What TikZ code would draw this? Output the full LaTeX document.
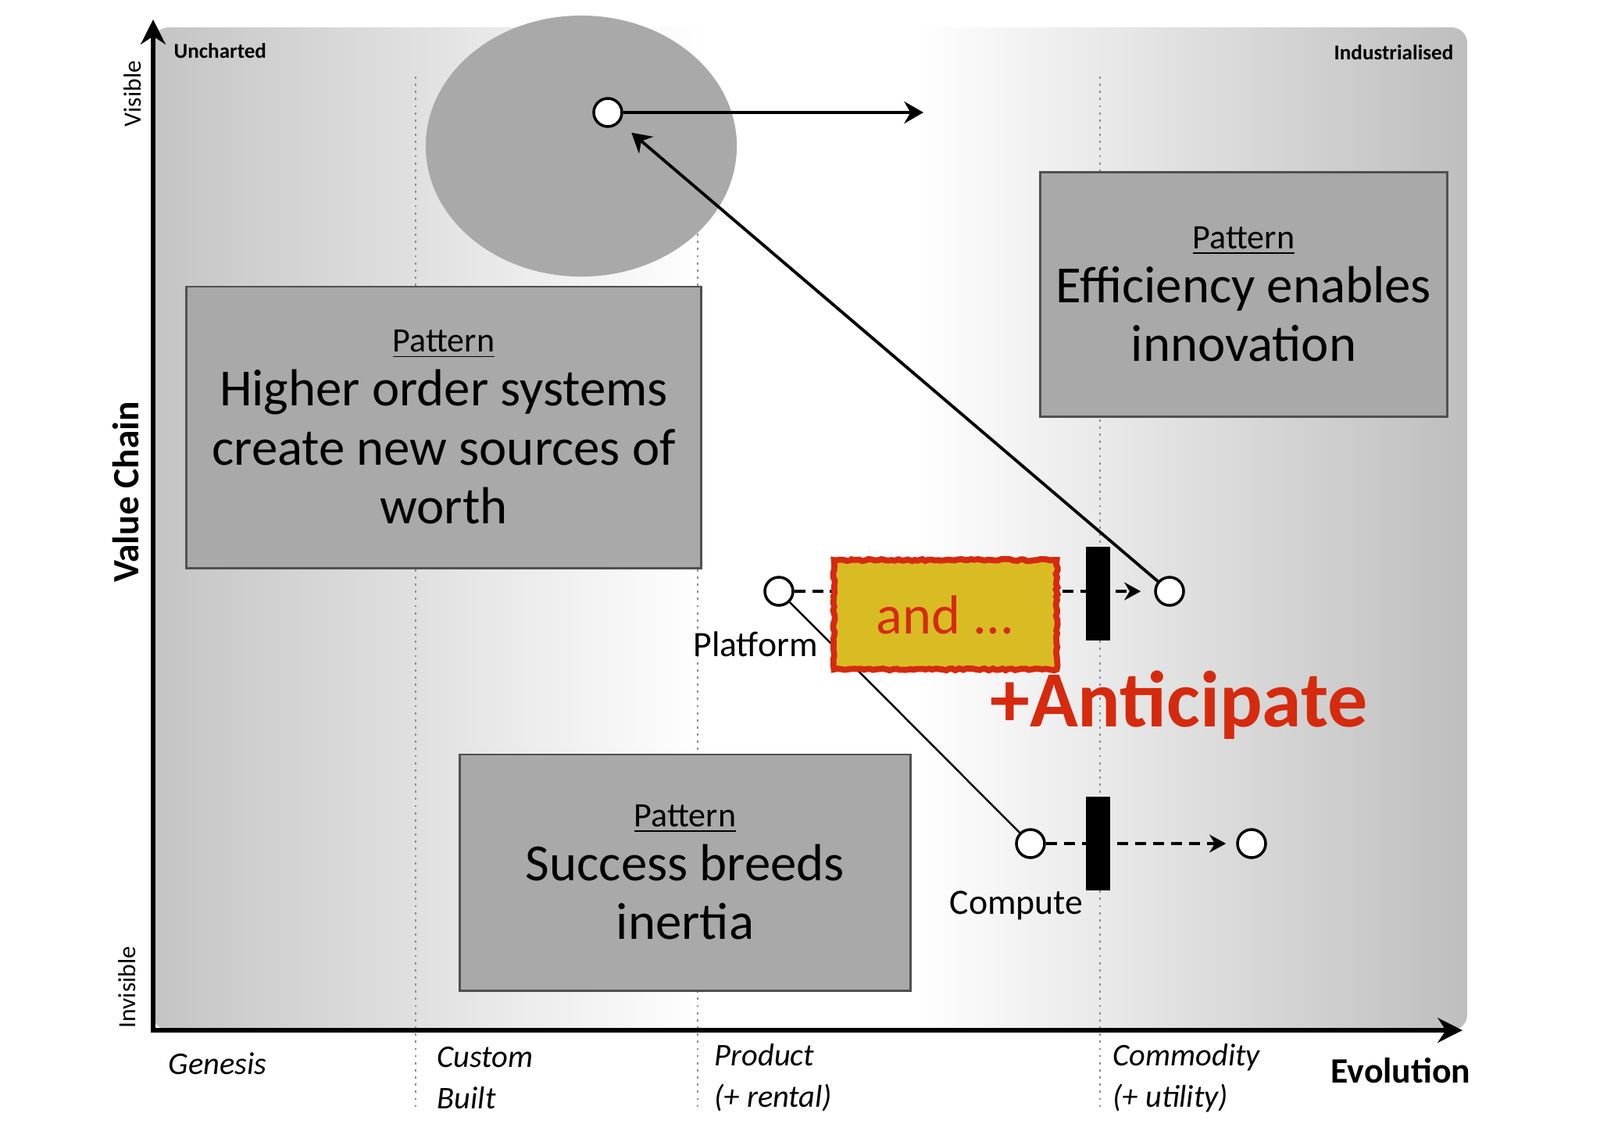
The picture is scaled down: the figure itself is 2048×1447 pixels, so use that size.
\documentclass[tikz,border=0pt]{standalone}
\usepackage{fontspec}
\setmainfont{Carlito}
\usetikzlibrary{arrows.meta,positioning,shapes.geometric,decorations.pathmorphing}

\definecolor{mapgrey}{RGB}{196,196,196}
\definecolor{boxgrey}{RGB}{169,169,169}
\definecolor{boxedge}{RGB}{80,80,80}
\definecolor{notegold}{RGB}{217,188,35}
\definecolor{notered}{RGB}{213,42,14}

\pgfdeclarehorizontalshading{mapshade}{100bp}{color(0bp)=(mapgrey); color(25bp)=(mapgrey); color(46bp)=(white); color(54bp)=(white); color(75bp)=(mapgrey!97!black); color(100bp)=(mapgrey!97!black)}

\newcommand{\patternhead}{{\fontsize{12.5}{14}\selectfont\underline{Pattern}}}

\tikzset{
  patternbox/.style={draw=boxedge, line width=0.8pt, fill=boxgrey, align=center, inner sep=0pt, font=\fontsize{19}{21.5}\selectfont},
  compnode/.style={circle, draw, fill=white, line width=1pt, minimum size=0.36cm, inner sep=0pt},
  inertiabar/.style={fill=black, minimum width=0.31cm, minimum height=1.2cm, inner sep=0pt},
  stageline/.style={black!45, dash pattern=on 0.8pt off 1.8pt, line width=0.7pt},
  axisline/.style={line width=1.7pt, {Stealth[length=9pt,width=9pt]}-{Stealth[length=9pt,width=9pt]}},
  moveline/.style={line width=1.1pt, -{Stealth[length=7pt,width=8pt]}},
  dashmove/.style={line width=1.4pt, dash pattern=on 4pt off 2.5pt, -{Stealth[length=6pt,width=6.5pt]}},
  linkline/.style={line width=0.7pt},
  stagelabel/.style={anchor=west, align=left, inner sep=0pt, font=\itshape\fontsize{11.5}{15}\selectfont},
  notebox/.style={draw=notered, line width=2.2pt, fill=notegold, text=notered, minimum width=2.85cm, minimum height=1.4cm, font=\fontsize{20}{24}\selectfont,
    decorate, decoration={random steps, segment length=1.2pt, amplitude=0.35pt}}
}

\begin{document}
\begin{tikzpicture}[x=0.01cm, y=-0.01cm]
  \useasboundingbox (0,0) rectangle (2048,1447);

  % Map background
  \shade[shading=mapshade, rounded corners=0.2cm] (196,35) rectangle (1878,1319);

  % Stages of evolution
  \draw[stageline] (532,98) -- (532,1417);
  \draw[stageline] (893,98) -- (893,1417);
  \draw[stageline] (1408,98) -- (1408,1417);

  % Higher order systems area
  \node[ellipse, fill=boxgrey, minimum width=3.98cm, minimum height=3.34cm, inner sep=0pt] (hotspot) at (744,187) {};

  % Axes
  \coordinate (origin) at (196,1319);
  \coordinate (ytip) at (196,25);
  \coordinate (xtip) at (1872,1319);
  \draw[axisline] (ytip) -- (origin) -- (xtip);

  \node[anchor=west, inner sep=0pt, font=\bfseries\fontsize{7.7}{9}\selectfont] (uncharted) at (222,65) {Uncharted};
  \node[anchor=east, inner sep=0pt, font=\bfseries\fontsize{7.7}{9}\selectfont] (industrial) at (1861,67) {Industrialised};
  \node[rotate=90, font=\fontsize{9}{10}\selectfont] (visible) at (170,120) {Visible};
  \node[rotate=90, font=\fontsize{9}{10}\selectfont] (invisible) at (163,1264) {Invisible};
  \node[rotate=90, font=\bfseries\fontsize{13.5}{15}\selectfont] (valuechain) at (161,630) {Value Chain};

  \node[stagelabel] (genesis) at (215,1362) {Genesis};
  \node[stagelabel] (custom) at (559,1380) {Custom\\Built};
  \node[stagelabel] (product) at (914,1380) {Product\\(+ rental)};
  \node[stagelabel] (commodity) at (1424,1380) {Commodity\\(+ utility)};
  \node[font=\bfseries\fontsize{13}{15}\selectfont] (evolution) at (1793,1371) {Evolution};

  % Patterns
  \node[patternbox, minimum width=6.58cm, minimum height=3.6cm] (higher) at (568,547)
    {\patternhead\\[-2pt]Higher order systems\\create new sources of\\worth};
  \node[patternbox, minimum width=5.2cm, minimum height=3.13cm] (efficiency) at (1592,377)
    {\patternhead\\[-2pt]Efficiency enables\\innovation};
  \node[patternbox, minimum width=5.76cm, minimum height=3.02cm] (success) at (877,1117)
    {\patternhead\\[-2pt]Success breeds\\inertia};

  % Components
  \node[compnode] (hos) at (778,144) {};
  \coordinate (hosend) at (1182,144);
  \node[compnode] (plat) at (997,757) {};
  \node[compnode] (platnext) at (1497,757) {};
  \node[compnode] (comp) at (1319,1080) {};
  \node[compnode] (compnext) at (1602,1080) {};

  \node[below=0.2cm of plat, xshift=-0.3cm, font=\fontsize{13}{15}\selectfont] (platlabel) {Platform};
  \node[below=0.29cm of comp, xshift=-0.18cm, font=\fontsize{13}{15}\selectfont] (complabel) {Compute};

  % Movements
  \draw[moveline] (hos) -- (hosend);
  \draw[moveline, shorten >=0.2cm] (platnext) -- (hos);
  \draw[linkline] (plat) -- (comp);
  \draw[dashmove, shorten >=0.17cm] (plat) -- (platnext);
  \draw[dashmove, shorten >=0.13cm] (comp) -- (compnext);

  % Inertia
  \node[inertiabar] (platbar) at (1405,760) {};
  \node[inertiabar] (compbar) at (1405,1080) {};

  % Note
  \node[notebox] (andmore) at (1210,787) {and ...};
  \node[anchor=base, text=notered, font=\bfseries\fontsize{29}{34}\selectfont] (anticipate) at (1509,930) {+Anticipate};
\end{tikzpicture}
\end{document}
